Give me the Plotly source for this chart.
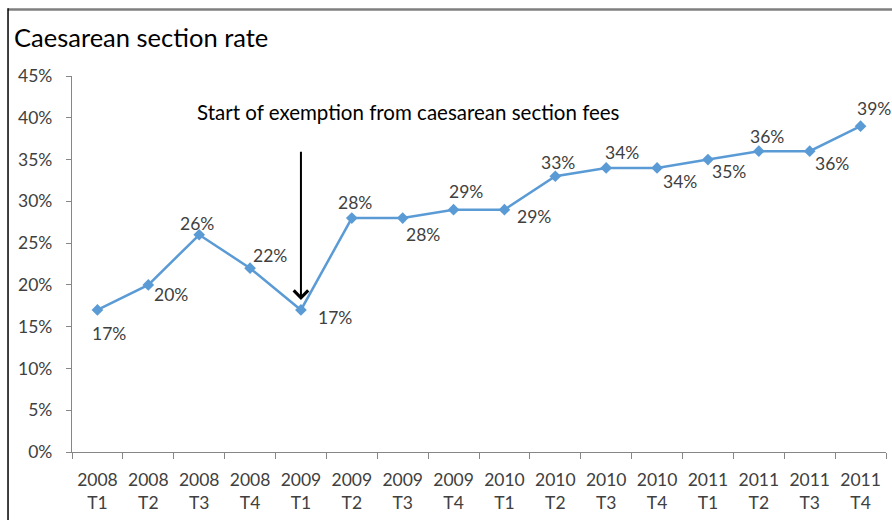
import plotly.graph_objects as go

periods = ["2008<br>T1", "2008<br>T2", "2008<br>T3", "2008<br>T4",
           "2009<br>T1", "2009<br>T2", "2009<br>T3", "2009<br>T4",
           "2010<br>T1", "2010<br>T2", "2010<br>T3", "2010<br>T4",
           "2011<br>T1", "2011<br>T2", "2011<br>T3", "2011<br>T4"]
rates = [0.17, 0.20, 0.26, 0.22, 0.17, 0.28, 0.28, 0.29,
         0.29, 0.33, 0.34, 0.34, 0.35, 0.36, 0.36, 0.39]
y_ticks = [0, 0.05, 0.10, 0.15, 0.20, 0.25, 0.30, 0.35, 0.40, 0.45]
title_text = "Caesarean section rate"
note_text = "Start of exemption from caesarean section fees"
note_index = 4

# label pixel offsets (style)
label_shift = [(12, -24), (23, -10), (-2, 11), (20, 13), (34, -8), (3, 16),
               (20, -16), (12, 18), (30, -7), (3, 14), (16, 15), (23, -14),
               (21, -12), (8, 15), (22, -12), (13, 18)]

FONT = "Lato, 'Open Sans', sans-serif"
TXT = "#404040"
FS = 17.5

fig = go.Figure()
fig.add_trace(go.Scatter(
    x=periods, y=rates, mode="lines+markers",
    line=dict(color="#5B9BD5", width=2.5),
    marker=dict(symbol="diamond", size=9, color="#5B9BD5"),
    hoverinfo="skip", showlegend=False))

annotations = []
for p, v, (dx, dy) in zip(periods, rates, label_shift):
    annotations.append(dict(x=p, y=v, text=f"{round(v*100)}%", showarrow=False,
                            xshift=dx, yshift=dy,
                            font=dict(family=FONT, size=FS, color=TXT)))

# arrow
annotations.append(dict(x=note_index, y=0.182, xref="x", yref="y",
                        ax=note_index, ay=0.361, axref="x", ayref="y",
                        text="", showarrow=True, arrowhead=4, arrowsize=1.4,
                        arrowwidth=2, arrowcolor="black"))
annotations.append(dict(x=note_index - 0.5 + (409 - 276) / 50.9, y=0.407,
                        xref="x", yref="y", text=note_text, showarrow=False,
                        font=dict(family=FONT, size=20.5, color="black")))
# title
annotations.append(dict(x=-0.0737, y=1.105, xref="paper", yref="paper",
                        xanchor="left", yanchor="middle", text=title_text,
                        showarrow=False,
                        font=dict(family=FONT, size=25.5, color="black")))

shapes = [
    dict(type="line", xref="paper", yref="paper", x0=-0.0786, x1=1.02,
         y0=1.1769, y1=1.1769, line=dict(color="#7F7F7F", width=2.5)),
    dict(type="line", xref="paper", yref="paper", x0=-0.0786, x1=-0.0786,
         y0=1.18, y1=-0.2, line=dict(color="#000000", width=1.5)),
]

fig.update_layout(
    width=892, height=520,
    margin=dict(l=72, r=6, t=76, b=68),
    paper_bgcolor="white", plot_bgcolor="white",
    font=dict(family=FONT, size=FS, color=TXT),
    annotations=annotations, shapes=shapes,
    xaxis=dict(type="category", range=[-0.5, 15.5], tickson="boundaries",
               ticks="outside", ticklen=6, tickcolor="#868686",
               showline=True, linecolor="#868686", linewidth=1.3,
               ticklabelstandoff=12,
               showgrid=False, tickfont=dict(family=FONT, size=FS, color=TXT)),
    yaxis=dict(range=[0, 0.45], tickvals=y_ticks, tickformat=".0%",
               ticks="outside", ticklen=5, tickcolor="#868686",
               showline=True, linecolor="#868686", linewidth=1.3,
               ticklabelstandoff=10,
               showgrid=False, zeroline=False,
               tickfont=dict(family=FONT, size=FS, color=TXT)),
)

fig.write_html("out.html")
